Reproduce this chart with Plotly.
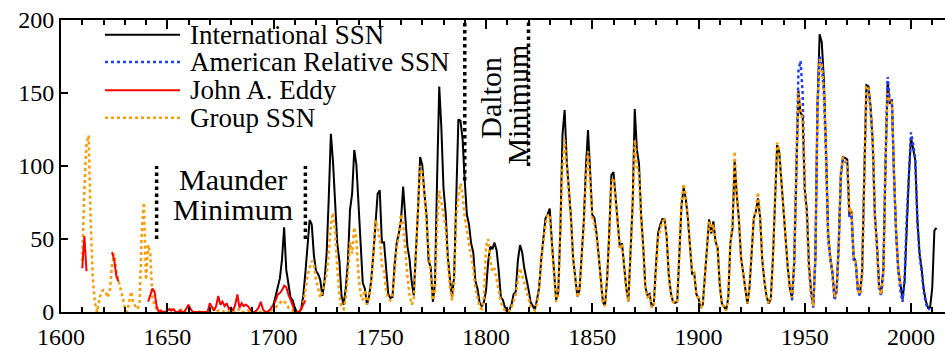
import plotly.graph_objects as go

# ---------------- data ----------------
intl_years = list(range(1700, 2013))
intl_ssn = [
    5, 11, 16, 23, 36, 58, 29, 20, 10, 8, 3, 0, 0, 2, 11, 27, 47, 63, 60, 39,
    28, 26, 22, 11, 21, 40, 78, 122, 103, 73, 47, 35, 11, 5, 16, 34, 70, 81, 111, 101,
    73, 40, 20, 16, 5, 11, 22, 40, 60, 80.9, 83.4, 47.7, 47.8, 30.7, 12.2, 9.6, 10.2, 32.4, 47.6, 54.0,
    62.9, 85.9, 61.2, 45.1, 36.4, 20.9, 11.4, 37.8, 69.8, 106.1, 100.8, 81.6, 66.5, 34.8, 30.6, 7.0, 19.8, 92.5, 154.4, 125.9,
    84.8, 68.1, 38.5, 22.8, 10.2, 24.1, 82.9, 132.0, 130.9, 118.1, 89.9, 66.6, 60.0, 46.9, 41.0, 21.3, 16.0, 6.4, 4.1, 6.8,
    14.5, 34.0, 45.0, 43.1, 47.5, 42.2, 28.1, 10.1, 8.1, 2.5, 0.0, 1.4, 5.0, 12.2, 13.9, 35.4, 45.8, 41.0, 30.1, 23.9,
    15.6, 6.6, 4.0, 1.8, 8.5, 16.6, 36.3, 49.6, 64.2, 67.0, 70.9, 47.8, 27.5, 8.5, 13.2, 56.9, 121.5, 138.3, 103.2, 85.7,
    64.6, 36.7, 24.2, 10.7, 15.0, 40.1, 61.5, 98.5, 124.7, 96.3, 66.6, 64.5, 54.1, 39.0, 20.6, 6.7, 4.3, 22.7, 54.8, 93.8,
    95.8, 77.2, 59.1, 44.0, 47.0, 30.5, 16.3, 7.3, 37.6, 74.0, 139.0, 111.2, 101.6, 66.2, 44.7, 17.0, 11.3, 12.4, 3.4, 6.0,
    32.3, 54.3, 59.7, 63.7, 63.5, 52.2, 25.4, 13.1, 6.8, 6.3, 7.1, 35.6, 73.0, 85.1, 78.0, 64.0, 41.8, 26.2, 26.7, 12.1,
    9.5, 2.7, 5.0, 24.4, 42.0, 63.5, 53.8, 62.0, 48.5, 43.9, 18.6, 5.7, 3.6, 1.4, 9.6, 47.4, 57.1, 103.9, 80.6, 63.6,
    37.6, 26.1, 14.2, 5.8, 16.7, 44.3, 63.9, 69.0, 77.8, 64.9, 35.7, 21.2, 11.1, 5.7, 8.7, 36.1, 79.7, 114.4, 109.6, 88.8,
    67.8, 47.5, 30.6, 16.3, 9.6, 33.2, 92.6, 151.6, 136.3, 134.7, 83.9, 69.4, 31.5, 13.9, 4.4, 38.0, 141.7, 190.2, 184.8, 159.0,
    112.3, 53.9, 37.6, 27.9, 10.2, 15.1, 47.0, 93.8, 105.9, 105.5, 104.5, 66.6, 68.9, 38.0, 34.5, 15.5, 12.6, 27.5, 92.5, 155.4,
    154.6, 140.4, 115.9, 66.6, 45.9, 17.9, 13.4, 29.4, 100.2, 157.6, 142.6, 145.7, 94.3, 54.6, 29.9, 17.5, 8.6, 21.5, 64.3, 93.3,
    119.6, 111.0, 104.0, 63.7, 40.4, 29.8, 15.2, 7.5, 2.9, 3.1, 16.5, 55.7, 57.6,
]

amer_years = list(range(1944, 2010))
amer_ssn = [
    8, 30, 95, 165, 172, 150, 84, 68, 30, 12, 3, 36, 140, 175, 170, 150, 108, 50, 36, 26,
    8, 14, 45, 95, 105, 103, 102, 65, 66, 36, 33, 14, 11, 26, 92, 152, 152, 138, 116, 66,
    44, 16, 11, 28, 105, 161, 145, 145, 94, 53, 28, 15, 7, 22, 65, 100, 123, 115, 105, 62,
    39, 28, 14, 6, 2, 2,
]

eddy_years = list(range(1610, 1716))
eddy_ssn = [
    30, 52, 28, None, None, None, None, None, None, None,        # 1610-1619
    None, None, None, None, 41, 36, 25, 21, None, None,          # 1620-1629
    None, None, None, None, None, None, None, None, None, None,  # 1630-1639
    None, 7, 12, 16, 14, 4, 0, 1, 0, 0,                          # 1640-1649
    1, 2, 1, 2, 0, 0, 1, 0, 0, 3,                                # 1650-1659
    5, 2, 0, 0, 0, 0, 0, 0, 0, 0,                                # 1660-1669
    6, 3, 1, 4, 11, 5, 7, 4, 6, 2,                               # 1670-1679
    3, 1, 5, 12, 3, 6, 4, 5, 4, 2,                               # 1680-1689
    0, 0, 1, 3, 7, 2, 0, 0, 1, 3,                                # 1690-1699
    5, 8, 12, 13, 15, 18, 17, 12, 8, 4,                          # 1700-1709
    1, 0, 0, 2, 5, 8,                                            # 1710-1715
]

group_years = list(range(1610, 1996))
group_ssn = [
    35, 85, 115, 121, 60, 22, 6, 0, 8, 14,          # 1610
    15, 14, 10, 15, 32, 40, 28, 22, 18, 10,         # 1620
    3, 0, 6, 14, 6, 4, 2, 6, 55, 75,                # 1630
    22, 46, 40, 10, 5, 2, 0, 0, 1, 0,               # 1640
    0, 1, 2, 1, 0, 0, 1, 2, 0, 1,                   # 1650
    3, 1, 0, 0, 0, 0, 1, 0, 0, 0,                   # 1660
    1, 0, 2, 0, 1, 0, 0, 1, 0, 0,                   # 1670
    1, 0, 0, 1, 2, 0, 0, 0, 1, 0,                   # 1680
    0, 0, 0, 0, 0, 0, 0, 0, 0, 1,                   # 1690
    2, 3, 5, 6, 8, 7, 6, 3, 2, 1,                   # 1700
    0, 0, 0, 1, 6, 15, 25, 30, 35, 33,              # 1710
    22, 16, 10, 14, 20, 26, 40, 60, 68, 55,         # 1720
    30, 12, 3, 2, 10, 25, 48, 40, 58, 50,           # 1730
    25, 12, 8, 15, 5, 10, 20, 40, 63, 58,           # 1740
    50, 32, 28, 15, 9, 8, 12, 28, 45, 52,           # 1750
    67, 60, 40, 25, 12, 5, 8, 35, 70, 100,          # 1760
    95, 80, 60, 38, 25, 8, 15, 60, 83, 75,          # 1770
    65, 58, 35, 18, 8, 20, 65, 80, 88, 80,          # 1780
    65, 55, 45, 38, 30, 16, 10, 3, 2, 10,           # 1790
    45, 50, 35, 28, 30, 22, 15, 7, 3, 1,            # 1800
    0, 1, 3, 8, 12, 22, 30, 25, 20, 15,             # 1810
    10, 4, 2, 1, 6, 15, 35, 48, 60, 67,             # 1820
    65, 45, 25, 7, 12, 55, 100, 118, 100, 80,       # 1830
    62, 35, 22, 10, 15, 38, 58, 90, 110, 90,        # 1840
    65, 60, 52, 38, 20, 7, 4, 22, 50, 88,           # 1850
    92, 76, 58, 44, 46, 30, 16, 7, 35, 70,          # 1860
    118, 100, 95, 62, 42, 16, 10, 11, 3, 5,         # 1870
    28, 50, 57, 62, 63, 52, 25, 13, 7, 6,           # 1880
    7, 36, 75, 88, 80, 65, 42, 27, 27, 12,          # 1890
    9, 3, 5, 25, 42, 62, 55, 60, 48, 44,            # 1900
    19, 6, 3, 1, 10, 48, 60, 110, 82, 64,           # 1910
    38, 26, 14, 6, 17, 45, 65, 70, 82, 66,          # 1920
    36, 21, 11, 6, 9, 37, 80, 116, 110, 89,         # 1930
    68, 47, 30, 16, 10, 33, 92, 150, 140, 130,      # 1940
    82, 68, 30, 13, 4, 37, 140, 173, 170, 152,      # 1950
    110, 52, 37, 27, 10, 15, 46, 95, 106, 104,      # 1960
    102, 68, 70, 38, 34, 15, 12, 27, 92, 155,       # 1970
    153, 138, 116, 65, 45, 17, 12, 28, 100, 150,    # 1980
    145, 145, 94, 55, 30, 17,                       # 1990
]

x_ticks = [1600, 1650, 1700, 1750, 1800, 1850, 1900, 1950, 2000]
y_ticks = [0, 50, 100, 150, 200]

# minima boundary markers: (year, y from, y to)
minima_marks = [(1645, 50, 100), (1715, 50, 100), (1790, 90, 200), (1820, 100, 200)]

series_names = ["International SSN", "American Relative SSN", "John A. Eddy", "Group SSN"]
series_colors = ["#000000", "#1f3dff", "#ff0000", "#ff9a00"]
series_dash = ["solid", "dot", "solid", "dot"]

FONT = "Liberation Serif"

fig = go.Figure()
fig.add_trace(go.Scatter(x=intl_years, y=intl_ssn, mode="lines", name=series_names[0],
                         line=dict(color=series_colors[0], width=2), showlegend=False))
fig.add_trace(go.Scatter(x=amer_years, y=amer_ssn, mode="lines", name=series_names[1],
                         line=dict(color=series_colors[1], width=2.5, dash="dot"), showlegend=False))
fig.add_trace(go.Scatter(x=group_years, y=group_ssn, mode="lines", name=series_names[3],
                         line=dict(color=series_colors[3], width=2.5, dash="dot"), showlegend=False))
fig.add_trace(go.Scatter(x=eddy_years, y=eddy_ssn, mode="lines", name=series_names[2],
                         line=dict(color=series_colors[2], width=2), showlegend=False,
                         connectgaps=False))

shapes = []
for yr, y0, y1 in minima_marks:
    shapes.append(dict(type="line", xref="x", yref="y", x0=yr, x1=yr, y0=y0, y1=y1,
                       line=dict(color="black", width=3.5, dash="dot")))

# legend drawn manually (long sample lines as in reference)
ML, MT, MB = 61, 20, 31
W, H = 945, 350
PW, PH = W - ML, H - MT - MB
def px(xp):
    return (xp - ML) / PW
def py(yp):
    return (H - MB - yp) / PH

annotations = []
leg_rows = [35, 63, 92, 120]
for i, yy in enumerate(leg_rows):
    shapes.append(dict(type="line", xref="paper", yref="paper", x0=px(105), x1=px(180),
                       y0=py(yy), y1=py(yy),
                       line=dict(color=series_colors[i], width=2.5 if series_dash[i] == "dot" else 2,
                                 dash=series_dash[i])))
    annotations.append(dict(xref="paper", yref="paper", x=px(188), y=py(yy), text=series_names[i],
                            showarrow=False, xanchor="left", yanchor="middle",
                            font=dict(family=FONT, size=27, color="black")))

annotations += [
    dict(x=1681, y=91, xref="x", yref="y", text="Maunder", showarrow=False,
         font=dict(family=FONT, size=30, color="black")),
    dict(x=1681, y=70, xref="x", yref="y", text="Minimum", showarrow=False,
         font=dict(family=FONT, size=30, color="black")),
    dict(x=1802, y=147, xref="x", yref="y", text="Dalton", showarrow=False, textangle=-90,
         font=dict(family=FONT, size=30, color="black")),
    dict(x=1815, y=142, xref="x", yref="y", text="Minimum", showarrow=False, textangle=-90,
         font=dict(family=FONT, size=30, color="black")),
]

fig.update_layout(
    width=W, height=H,
    margin=dict(l=ML, r=0, t=MT, b=MB, pad=0),
    paper_bgcolor="white", plot_bgcolor="white",
    font=dict(family=FONT, size=24, color="black"),
    shapes=shapes, annotations=annotations,
    showlegend=False,
)
fig.update_xaxes(
    range=[1600, 2016], tickvals=x_ticks, ticktext=[str(v) for v in x_ticks],
    ticks="inside", ticklen=9, tickwidth=2, tickcolor="black",
    minor=dict(dtick=10, tick0=1600, ticks="inside", ticklen=5, tickwidth=2, tickcolor="black"),
    showline=True, linecolor="black", linewidth=2, mirror="ticks",
    showgrid=False, zeroline=False, ticklabelstandoff=2,
    tickfont=dict(family=FONT, size=24, color="black"),
)
fig.update_yaxes(
    range=[0, 200], tickvals=y_ticks, ticktext=[str(v) for v in y_ticks],
    ticks="inside", ticklen=7, tickwidth=2, tickcolor="black",
    showline=True, linecolor="black", linewidth=2, mirror=False,
    showgrid=False, zeroline=False,
    tickfont=dict(family=FONT, size=24, color="black"),
)

fig.write_html("out.html", config={"displayModeBar": False},
               post_script="document.body.style.margin='0';document.body.style.overflow='hidden';")
